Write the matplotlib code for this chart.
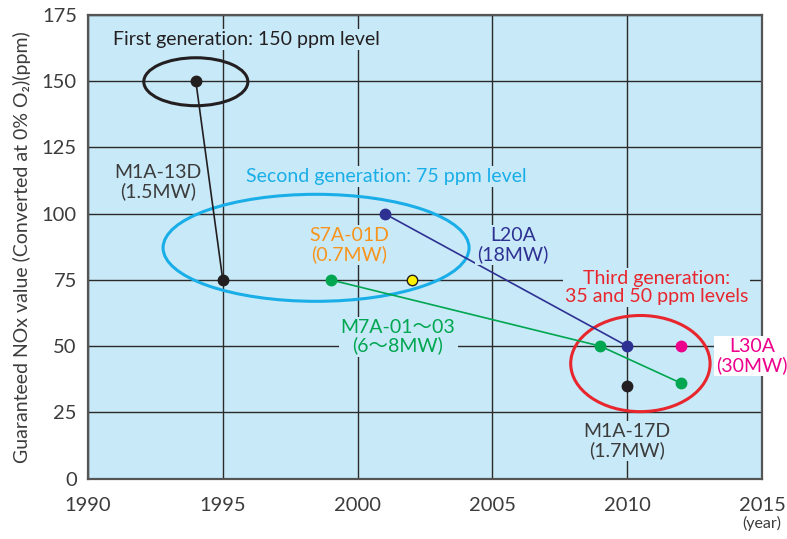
import matplotlib
matplotlib.use("Agg")
import matplotlib.pyplot as plt
from matplotlib.patches import Ellipse

plt.rcParams["font.family"] = ["Lato", "Noto Sans CJK JP", "DejaVu Sans"]

BG = "#c8e9f8"
BLACK = "#231f20"
GRAY = "#3c3c3c"
CYAN = "#1aaee8"
NAVY = "#2e3192"
GREEN = "#00a650"
ORANGE = "#f7941d"
RED = "#e8262d"
MAGENTA = "#ec008c"
YELLOW = "#fff200"

# series (year, ppm)
m1a13d_x = [1994, 1995]
m1a13d_y = [150, 75]
l20a_x = [2001, 2010]
l20a_y = [100, 50]
m7a_x = [1999, 2009, 2012]
m7a_y = [75, 50, 36]
s7a_x, s7a_y = [2002], [75]
l30a_x, l30a_y = [2012], [50]
m1a17d_x, m1a17d_y = [2010], [35]

# generation ellipses: (center x, center y, width in years, height in ppm)
gen_ellipses = [
    (1994.0, 149.8, 3.86, 18.1, BLACK),
    (1998.46, 87.1, 11.35, 40.4, CYAN),
    (2010.49, 43.4, 5.17, 36.3, RED),
]

x_ticks = [1990, 1995, 2000, 2005, 2010, 2015]
y_ticks = [0, 25, 50, 75, 100, 125, 150, 175]

fig = plt.figure(figsize=(7.87, 5.39), dpi=100)
ax = fig.add_axes([0.1118, 0.1122, 0.8564, 0.86])
ax.set_facecolor(BG)
ax.set_xlim(1990, 2015)
ax.set_ylim(0, 175)
ax.set_xticks(x_ticks)
ax.set_yticks(y_ticks)
ax.tick_params(length=0, labelsize=14.5, colors=GRAY)
ax.tick_params(axis="x", pad=13)
ax.tick_params(axis="y", pad=8)
ax.grid(True, color="#2a2a2a", lw=1.0, zorder=1)
ax.set_axisbelow(True)
for sp in ax.spines.values():
    sp.set_color("#555555")
    sp.set_linewidth(1.6)

ax.set_ylabel("Guaranteed NOx value (Converted at 0% O\u2082)(ppm)",
              fontsize=14, color=GRAY, labelpad=8)
fig.text(0.968, 0.028, "(year)", ha="center", va="center", fontsize=11.5, color=GRAY)

for cx, cy, w, h, c in gen_ellipses:
    ax.add_patch(Ellipse((cx, cy), w, h, fill=False, ec=c, lw=2.2, zorder=3))

ms = 7.5
ax.plot(m1a13d_x, m1a13d_y, color=BLACK, lw=1.2, marker="o", ms=ms, zorder=4)
ax.plot(l20a_x, l20a_y, color=NAVY, lw=1.2, marker="o", ms=ms, zorder=4)
ax.plot(m7a_x, m7a_y, color=GREEN, lw=1.2, marker="o", ms=ms, zorder=4)
ax.plot(s7a_x, s7a_y, ls="none", marker="o", ms=ms, mfc=YELLOW, mec=BLACK, mew=1.0, zorder=4)
ax.plot(l30a_x, l30a_y, ls="none", marker="o", ms=ms, color=MAGENTA, zorder=4)
ax.plot(m1a17d_x, m1a17d_y, ls="none", marker="o", ms=ms, color=BLACK, zorder=4)

box = dict(facecolor=BG, edgecolor="none", pad=1.5)
labels = [
    (1995.86, 165.7, "First generation: 150 ppm level", BLACK),
    (1992.6, 112.0, "M1A-13D\n(1.5MW)", GRAY),
    (2001.05, 113.9, "Second generation: 75 ppm level", CYAN),
    (1999.7, 88.2, "S7A-01D\n(0.7MW)", ORANGE),
    (2005.76, 88.2, "L20A\n(18MW)", NAVY),
    (2001.5, 53.5, "M7A-01\uff5e03\n(6\uff5e8MW)", GREEN),
    (2011.09, 72.0, "Third generation:\n35 and 50 ppm levels", RED),
    (2010.0, 14.2, "M1A-17D\n(1.7MW)", GRAY),
]
for x, y, s, c in labels:
    ax.text(x, y, s, ha="center", va="center", fontsize=14, color=c,
            linespacing=1.05, bbox=box, zorder=5)

ax.text(2014.63, 46.3, "L30A\n(30MW)", ha="center", va="center", fontsize=14,
        color=MAGENTA, linespacing=1.05, clip_on=False, zorder=5,
        bbox=dict(facecolor="white", edgecolor="none", pad=1.5))

fig.savefig("out.png", dpi=100)
